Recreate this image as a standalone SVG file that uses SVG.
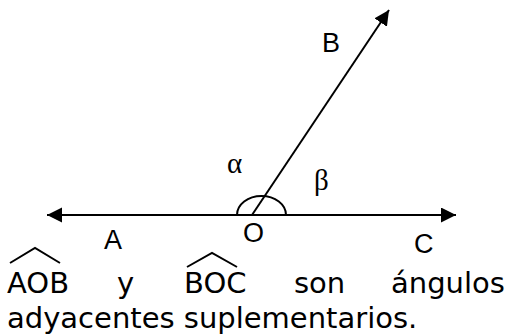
<svg xmlns="http://www.w3.org/2000/svg" width="510" height="334" viewBox="0 0 510 334">
<style>
.ln{stroke:#000;stroke-width:2;fill:none}
.lbl{font-family:"Liberation Sans",Arial,sans-serif;font-size:27px;fill:#000}
.gr{font-family:"Liberation Serif","DejaVu Serif",serif;font-size:29px;fill:#000}
.tx{font-family:"DejaVu Sans",Verdana,sans-serif;font-size:29px;fill:#000}
</style>
<defs>
<marker id="ah" markerUnits="userSpaceOnUse" markerWidth="16" markerHeight="16" refX="15" refY="7.5" orient="auto-start-reverse" viewBox="0 0 16 16">
<path d="M0,0 L15,7.5 L0,15 z" fill="#000"/>
</marker>
</defs>
<g id="connectors">
<line id="line-AC" class="ln" x1="47" y1="215" x2="456" y2="215" marker-start="url(#ah)" marker-end="url(#ah)"/>
<line id="ray-OB" class="ln" x1="252" y1="215" x2="389" y2="10" marker-end="url(#ah)"/>
<path id="arc" class="ln" d="M237,215 A24.5,19 0 0 1 286,215"/>
</g>
<g id="node-B"><text class="lbl" x="322" y="52">B</text></g>
<g id="node-A"><text class="lbl" x="104" y="249">A</text></g>
<g id="node-O"><text class="lbl" x="243" y="242">O</text></g>
<g id="node-C"><text class="lbl" x="414" y="253">C</text></g>
<g id="alpha"><text class="gr" x="227" y="173">α</text></g>
<g id="beta"><text class="gr" x="314" y="190">β</text></g>
<g id="caption">
<polyline class="ln" points="10,263 35,248 60,263"/>
<polyline class="ln" points="187,267 212,253 237,267"/>
<text class="tx" x="7" y="293">AOB</text>
<text class="tx" x="117" y="293">y</text>
<text class="tx" x="184" y="293">BOC</text>
<text class="tx" x="294" y="293">son</text>
<text class="tx" x="391" y="293">ángulos</text>
<text class="tx" x="7" y="328">adyacentes suplementarios.</text>
</g>
</svg>
